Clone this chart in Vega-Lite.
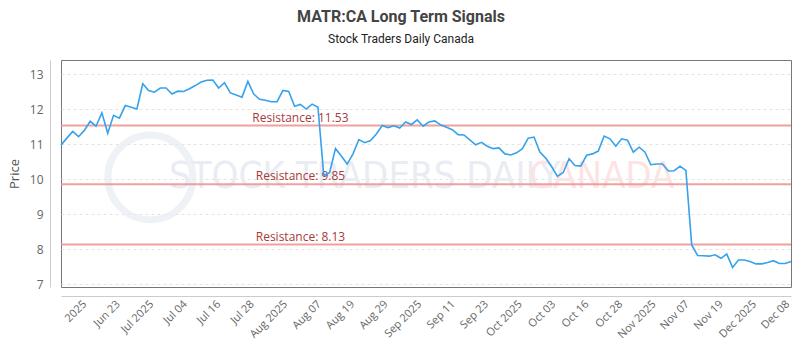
{
  "$schema": "https://vega.github.io/schema/vega-lite/v6.json",
  "width": 730,
  "height": 227,
  "autosize": {"type": "none"},
  "padding": {"left": 61, "top": 60, "right": 9, "bottom": 63},
  "background": "white",
  "title": {
    "text": "MATR:CA Long Term Signals",
    "subtitle": "Stock Traders Daily Canada",
    "anchor": "middle",
    "dx": -25,
    "offset": 15,
    "font": "Roboto",
    "fontSize": 16,
    "fontWeight": "bold",
    "color": "#444",
    "subtitleFont": "Roboto",
    "subtitleFontSize": 12,
    "subtitleColor": "#222",
    "subtitlePadding": 9
  },
  "config": {
    "view": {"stroke": "#777", "strokeWidth": 1},
    "font": "Open Sans"
  },
  "datasets": {
    "prices": [
      {"day": 0, "price": 10.97}, {"day": 1, "price": 11.17}, {"day": 2, "price": 11.36}, {"day": 3, "price": 11.21},
      {"day": 4, "price": 11.39}, {"day": 5, "price": 11.65}, {"day": 6, "price": 11.51}, {"day": 7, "price": 11.89},
      {"day": 8, "price": 11.31}, {"day": 9, "price": 11.82}, {"day": 10, "price": 11.74}, {"day": 11, "price": 12.1},
      {"day": 12, "price": 12.05}, {"day": 13, "price": 12.0}, {"day": 14, "price": 12.72}, {"day": 15, "price": 12.53},
      {"day": 16, "price": 12.48}, {"day": 17, "price": 12.6}, {"day": 18, "price": 12.6}, {"day": 19, "price": 12.43},
      {"day": 20, "price": 12.51}, {"day": 21, "price": 12.5}, {"day": 22, "price": 12.58}, {"day": 23, "price": 12.67},
      {"day": 24, "price": 12.77}, {"day": 25, "price": 12.82}, {"day": 26, "price": 12.83}, {"day": 27, "price": 12.6},
      {"day": 28, "price": 12.75}, {"day": 29, "price": 12.46}, {"day": 30, "price": 12.4}, {"day": 31, "price": 12.34},
      {"day": 32, "price": 12.79}, {"day": 33, "price": 12.43}, {"day": 34, "price": 12.28}, {"day": 35, "price": 12.25},
      {"day": 36, "price": 12.21}, {"day": 37, "price": 12.21}, {"day": 38, "price": 12.53}, {"day": 39, "price": 12.5},
      {"day": 40, "price": 12.08}, {"day": 41, "price": 12.13}, {"day": 42, "price": 12.0}, {"day": 43, "price": 12.14},
      {"day": 44, "price": 12.05}, {"day": 45, "price": 10.1}, {"day": 46, "price": 10.19}, {"day": 47, "price": 10.87},
      {"day": 48, "price": 10.66}, {"day": 49, "price": 10.43}, {"day": 50, "price": 10.72}, {"day": 51, "price": 11.13},
      {"day": 52, "price": 11.04}, {"day": 53, "price": 11.1}, {"day": 54, "price": 11.29}, {"day": 55, "price": 11.53},
      {"day": 56, "price": 11.47}, {"day": 57, "price": 11.52}, {"day": 58, "price": 11.46}, {"day": 59, "price": 11.63},
      {"day": 60, "price": 11.56}, {"day": 61, "price": 11.69}, {"day": 62, "price": 11.51}, {"day": 63, "price": 11.63},
      {"day": 64, "price": 11.66}, {"day": 65, "price": 11.55}, {"day": 66, "price": 11.48}, {"day": 67, "price": 11.41},
      {"day": 68, "price": 11.27}, {"day": 69, "price": 11.26}, {"day": 70, "price": 11.12}, {"day": 71, "price": 10.98},
      {"day": 72, "price": 11.05}, {"day": 73, "price": 10.94}, {"day": 74, "price": 10.87}, {"day": 75, "price": 10.89},
      {"day": 76, "price": 10.72}, {"day": 77, "price": 10.69}, {"day": 78, "price": 10.75}, {"day": 79, "price": 10.87},
      {"day": 80, "price": 11.17}, {"day": 81, "price": 11.2}, {"day": 82, "price": 10.77}, {"day": 83, "price": 10.6},
      {"day": 84, "price": 10.36}, {"day": 85, "price": 10.08}, {"day": 86, "price": 10.19}, {"day": 87, "price": 10.58},
      {"day": 88, "price": 10.39}, {"day": 89, "price": 10.37}, {"day": 90, "price": 10.68}, {"day": 91, "price": 10.72},
      {"day": 92, "price": 10.8}, {"day": 93, "price": 11.23}, {"day": 94, "price": 11.15}, {"day": 95, "price": 10.94},
      {"day": 96, "price": 11.15}, {"day": 97, "price": 11.11}, {"day": 98, "price": 10.77}, {"day": 99, "price": 10.91},
      {"day": 100, "price": 10.77}, {"day": 101, "price": 10.41}, {"day": 102, "price": 10.43}, {"day": 103, "price": 10.43},
      {"day": 104, "price": 10.23}, {"day": 105, "price": 10.24}, {"day": 106, "price": 10.37}, {"day": 107, "price": 10.25},
      {"day": 108, "price": 8.12}, {"day": 109, "price": 7.82}, {"day": 110, "price": 7.81}, {"day": 111, "price": 7.8},
      {"day": 112, "price": 7.84}, {"day": 113, "price": 7.74}, {"day": 114, "price": 7.86}, {"day": 115, "price": 7.48},
      {"day": 116, "price": 7.69}, {"day": 117, "price": 7.69}, {"day": 118, "price": 7.65}, {"day": 119, "price": 7.58},
      {"day": 120, "price": 7.58}, {"day": 121, "price": 7.62}, {"day": 122, "price": 7.67}, {"day": 123, "price": 7.59},
      {"day": 124, "price": 7.59}, {"day": 125, "price": 7.65}
    ],
    "levels": [
      {"level": 11.53, "label": "Resistance: 11.53"},
      {"level": 9.85, "label": "Resistance: 9.85"},
      {"level": 8.13, "label": "Resistance: 8.13"}
    ],
    "marks": [
      {"text": "STOCK TRADERS DAILY", "brand": "main"},
      {"text": "CANADA", "brand": "country"}
    ]
  },
  "layer": [
    {
      "data": {"name": "prices"},
      "mark": {"type": "line", "opacity": 0},
      "encoding": {
        "x": {
          "field": "day",
          "type": "quantitative",
          "scale": {"domain": [0, 125], "nice": false, "zero": false},
          "axis": {
            "title": null,
            "offset": 9,
            "grid": false,
            "tickSize": 0,
            "tickCount": 40,
            "domainColor": "#ccc",
            "labelAngle": -45,
            "labelAlign": "right",
            "labelBaseline": "top",
            "labelPadding": 2,
            "labelFontSize": 11,
            "labelColor": "#666",
            "labelFont": "Open Sans",
            "labelOverlap": false,
            "labelBound": false,
            "labelFlush": false,
            "values": [3.3, 9.04, 14.77, 20.5, 26.24, 31.98, 37.7, 43.45, 49.2, 54.9, 60.66, 66.4, 72.1, 77.9, 83.6, 89.3, 95.1, 100.8, 106.5, 112.3, 118.0, 123.7],
            "labelExpr": "['2025','Jun 23','Jul 2025','Jul 04','Jul 16','Jul 28','Aug 2025','Aug 07','Aug 19','Aug 29','Sep 2025','Sep 11','Sep 23','Oct 2025','Oct 03','Oct 16','Oct 28','Nov 2025','Nov 07','Nov 19','Dec 2025','Dec 08'][round((datum.value - 3.3) / 5.736)]"
          }
        },
        "y": {
          "field": "price",
          "type": "quantitative",
          "scale": {"domain": [6.92, 13.4], "nice": false, "zero": false},
          "axis": {
            "title": "Price",
            "titleFont": "Open Sans",
            "titleFontSize": 13,
            "titleFontWeight": "normal",
            "titleColor": "#555",
            "titlePadding": 8,
            "offset": 11,
            "tickCount": 7,
            "labelOverlap": false,
            "tickSize": 0,
            "domainColor": "#ccc",
            "labelPadding": 7,
            "labelFontSize": 12,
            "labelColor": "#666",
            "labelFont": "Open Sans",
            "grid": true,
            "gridDash": [3, 3],
            "gridColor": "#e2e2e2"
          }
        }
      }
    },
    {
      "data": {"values": [{"logo": "circle"}]},
      "mark": {"type": "point", "filled": false, "stroke": "#e8ecf3", "strokeWidth": 7, "size": 7200},
      "encoding": {
        "x": {"datum": 15.3, "type": "quantitative"},
        "y": {"datum": 10.05, "type": "quantitative"}
      }
    },
    {
      "data": {"name": "marks"},
      "transform": [{"filter": "datum.brand == 'main'"}],
      "mark": {"type": "text", "font": "DejaVu Sans Condensed", "fontSize": 38, "color": "#e9edf3", "align": "center", "baseline": "middle"},
      "encoding": {
        "x": {"datum": 52, "type": "quantitative"},
        "y": {"datum": 10.05, "type": "quantitative"},
        "text": {"field": "text"}
      }
    },
    {
      "data": {"name": "marks"},
      "transform": [{"filter": "datum.brand == 'country'"}],
      "mark": {"type": "text", "font": "DejaVu Sans Condensed", "fontSize": 38, "color": "#fce4e4", "align": "center", "baseline": "middle"},
      "encoding": {
        "x": {"datum": 92.6, "type": "quantitative"},
        "y": {"datum": 10.05, "type": "quantitative"},
        "text": {"field": "text"}
      }
    },
    {
      "data": {"name": "levels"},
      "mark": {"type": "rule", "color": "#ef8f8f", "strokeWidth": 2, "opacity": 0.85},
      "encoding": {
        "y": {"field": "level", "type": "quantitative"}
      }
    },
    {
      "data": {"name": "levels"},
      "mark": {"type": "text", "color": "#a83a3a", "fontSize": 12, "font": "Open Sans", "align": "center", "baseline": "bottom", "dy": -1},
      "encoding": {
        "x": {"datum": 41, "type": "quantitative"},
        "y": {"field": "level", "type": "quantitative"},
        "text": {"field": "label"}
      }
    },
    {
      "data": {"name": "prices"},
      "mark": {"type": "line", "color": "#36a2eb", "strokeWidth": 1.6},
      "encoding": {
        "x": {"field": "day", "type": "quantitative"},
        "y": {"field": "price", "type": "quantitative"}
      }
    }
  ]
}
